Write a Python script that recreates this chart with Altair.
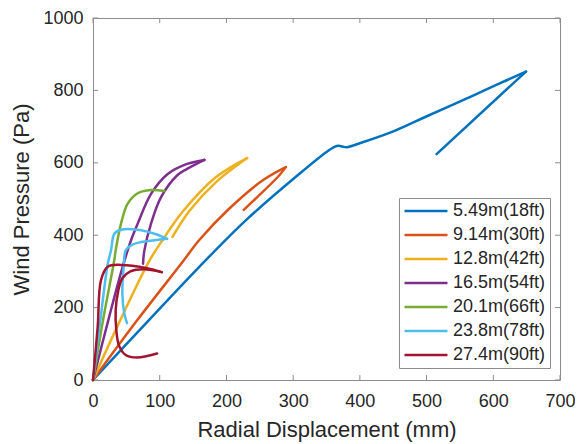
import altair as alt
import pandas as pd

series = ["5.49m(18ft)", "9.14m(30ft)", "12.8m(42ft)", "16.5m(54ft)",
          "20.1m(66ft)", "23.8m(78ft)", "27.4m(90ft)"]
colors = ["#0072BD", "#D95319", "#EDB120", "#7E2F8E", "#77AC30", "#4DBEEE", "#A2142F"]

x_ticks = [0, 100, 200, 300, 400, 500, 600, 700]
y_ticks = [0, 200, 400, 600, 800, 1000]

# 5.49 m (18 ft)
s1_load_x = [0, 80, 159, 229, 309, 353, 362, 368, 374, 380, 403, 453, 502, 552, 602, 649]
s1_load_y = [0, 158, 312, 441, 569, 634, 644, 647, 645, 643, 656, 689, 730, 771, 813, 852]
s1_unload_x = [649, 515]
s1_unload_y = [852, 624]

# 9.14 m (30 ft)
s2_load_x = [0, 65, 135, 159, 204, 254, 289]
s2_load_y = [0, 162, 328, 386, 473, 551, 588]
s2_unload_x = [289, 279, 226]
s2_unload_y = [588, 565, 470]

# 12.8 m (42 ft)
s3_load_x = [0, 40, 85, 104, 134, 184, 231]
s3_load_y = [0, 162, 331, 386, 464, 560, 613]
s3_unload_x = [231, 184, 145, 119]
s3_unload_y = [613, 546, 468, 395]

# 16.5 m (54 ft)
s4_load_x = [0, 25, 44, 57, 67, 87, 112, 141, 167]
s4_load_y = [0, 180, 310, 386, 432, 514, 569, 597, 608]
s4_unload_x = [167, 141, 126, 102, 87, 77, 75]
s4_unload_y = [608, 583, 565, 505, 432, 358, 321]

# 20.1 m (66 ft)
s5_load_x = [0, 15, 32, 34, 42, 52, 67, 87, 107]
s5_load_y = [0, 165, 332, 358, 432, 487, 516, 525, 522]

# 23.8 m (78 ft)
s6_load_x = [0, 12, 22, 27, 32, 42, 67, 92, 111]
s6_load_y = [0, 180, 320, 358, 404, 415, 415, 404, 390]
s6_unload_x = [111, 92, 72, 57, 49, 46, 44, 47, 51]
s6_unload_y = [390, 386, 381, 372, 358, 313, 239, 183, 157]

# 27.4 m (90 ft)
s7_load_x = [0, 7, 12, 22, 42, 81, 103]
s7_load_y = [0, 146, 276, 313, 318, 309, 298]
s7_unload_x = [103, 76, 56, 44, 38, 34, 35, 39, 49, 66, 96]
s7_unload_y = [298, 306, 300, 281, 248, 193, 137, 95, 69, 62, 73]

segments = [
    (0, "load", s1_load_x, s1_load_y), (0, "unload", s1_unload_x, s1_unload_y),
    (1, "load", s2_load_x, s2_load_y), (1, "unload", s2_unload_x, s2_unload_y),
    (2, "load", s3_load_x, s3_load_y), (2, "unload", s3_unload_x, s3_unload_y),
    (3, "load", s4_load_x, s4_load_y), (3, "unload", s4_unload_x, s4_unload_y),
    (4, "load", s5_load_x, s5_load_y),
    (5, "load", s6_load_x, s6_load_y), (5, "unload", s6_unload_x, s6_unload_y),
    (6, "load", s7_load_x, s7_load_y), (6, "unload", s7_unload_x, s7_unload_y),
]

rows = []
for si, seg, xs, ys in segments:
    for k, (xv, yv) in enumerate(zip(xs, ys)):
        rows.append({"series": series[si], "seg": f"{si}-{seg}", "idx": k, "x": xv, "y": yv})
df = pd.DataFrame(rows)

W, H = 467, 362
FONT = "Liberation Sans"
TXT = "#262626"
FRAME = "#8c8c8c"
X_TITLE = "Radial Displacement (mm)"
Y_TITLE = "Wind Pressure (Pa)"

def xenc(field):
    return alt.X(f"{field}:Q", scale=alt.Scale(domain=[0, 700], nice=False),
                 axis=alt.Axis(values=x_ticks, title=X_TITLE, labelPadding=12,
                               titlePadding=9, labelFlush=False, format="d"))

def yenc(field):
    return alt.Y(f"{field}:Q", scale=alt.Scale(domain=[0, 1000], nice=False),
                 axis=alt.Axis(values=y_ticks, title=Y_TITLE, labelPadding=10,
                               titlePadding=9, labelFlush=False, format="d"))

lines = alt.Chart(df).mark_line(strokeWidth=2.5, interpolate="catmull-rom",
                                strokeJoin="round", strokeCap="round").encode(
    x=xenc("x"),
    y=yenc("y"),
    color=alt.Color("series:N", scale=alt.Scale(domain=series, range=colors),
                    title=None,
                    legend=alt.Legend(orient="none", legendX=306, legendY=180,
                                      symbolType="stroke", symbolSize=1849,
                                      symbolStrokeWidth=2.5, labelFontSize=18,
                                      labelFont=FONT, labelColor=TXT, padding=4,
                                      clipHeight=18, rowPadding=6, labelOffset=4,
                                      strokeColor=FRAME, fillColor="white")),
    detail="seg:N",
    order="idx:Q",
)

xt = pd.DataFrame({"x": x_ticks})
yt = pd.DataFrame({"y": y_ticks})

bottom_ticks = alt.Chart(xt).mark_rule(color=FRAME, strokeWidth=1).encode(
    x=xenc("x"), y=alt.value(H), y2=alt.value(H - 5))
top_ticks = alt.Chart(xt).mark_rule(color=FRAME, strokeWidth=1).encode(
    x=xenc("x"), y=alt.value(0), y2=alt.value(5))
left_ticks = alt.Chart(yt).mark_rule(color=FRAME, strokeWidth=1).encode(
    y=yenc("y"), x=alt.value(0), x2=alt.value(5))
right_ticks = alt.Chart(yt).mark_rule(color=FRAME, strokeWidth=1).encode(
    y=yenc("y"), x=alt.value(W), x2=alt.value(W - 5))

chart = alt.layer(bottom_ticks, top_ticks, left_ticks, right_ticks, lines).properties(
    width=W, height=H,
    padding={"left": 85, "top": 10, "right": 15, "bottom": 64},
    autosize=alt.AutoSizeParams(type="none"),
).configure_view(
    stroke=FRAME, strokeWidth=1
).configure_axis(
    domain=False, ticks=False, tickSize=0, grid=False,
    labelFont=FONT, labelFontSize=18, labelColor=TXT,
    titleFont=FONT, titleFontSize=22, titleColor=TXT, titleFontWeight="normal",
).configure_legend(
    cornerRadius=0, strokeWidth=1
)

chart.save("out.html", embed_options={"renderer": "svg", "actions": False})
